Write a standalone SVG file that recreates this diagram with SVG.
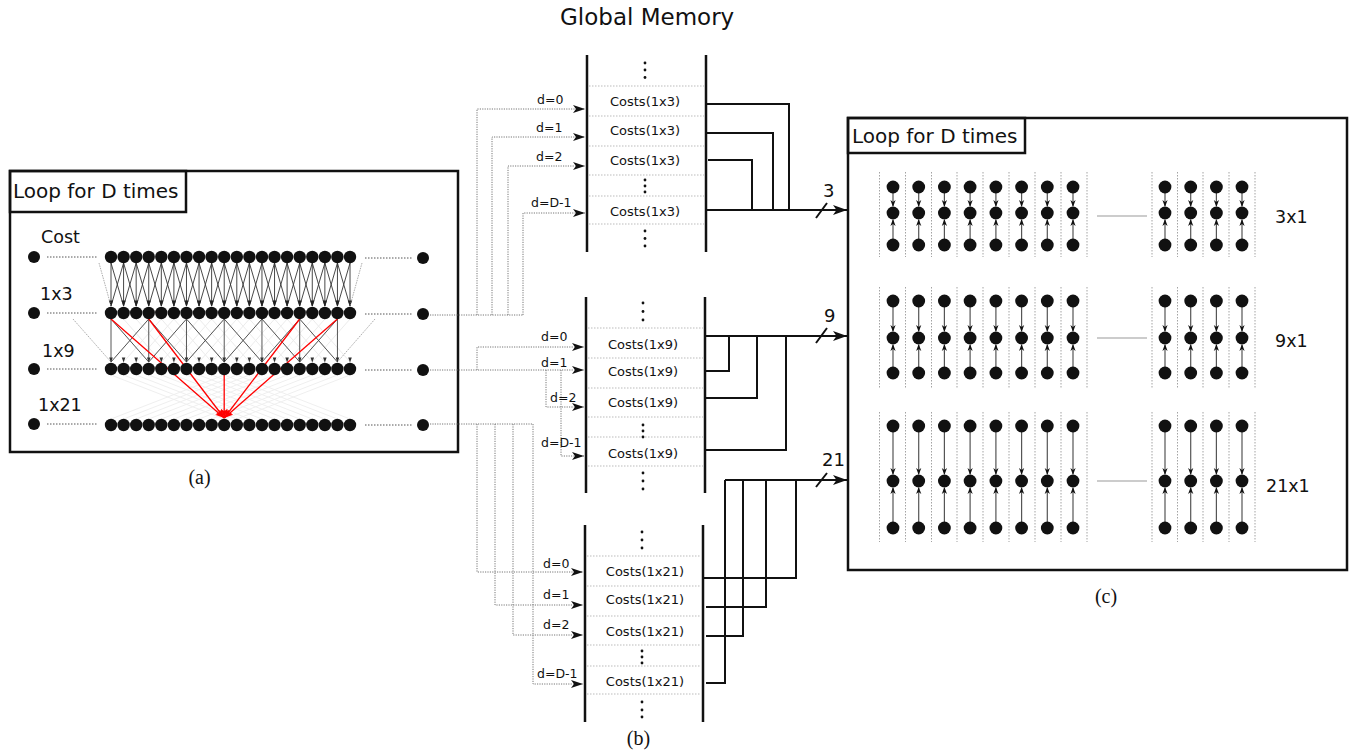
<svg xmlns="http://www.w3.org/2000/svg" width="1353" height="754" viewBox="0 0 1353 754">
<defs>
<style>
.t{font-family:"DejaVu Sans","Liberation Sans",sans-serif;fill:#111}
.cap{font-family:"Liberation Serif","Times New Roman",serif;font-size:20px;fill:#111;text-anchor:middle}
.frame{fill:none;stroke:#111;stroke-width:2.5}
.dot{fill:#111}
.dl{fill:none;stroke:#555;stroke-width:1;stroke-dasharray:1.5 1.5}
.bar{fill:none;stroke:#111;stroke-width:2.5}
.sep{fill:none;stroke:#aaa;stroke-width:0.8;stroke-dasharray:1.5 1.5}
.out{fill:none;stroke:#111;stroke-width:2}
.dline{fill:none;stroke:#777;stroke-width:1;stroke-dasharray:1.2 1.2}
.cl{fill:none;stroke:#555;stroke-width:1.2}
.cs{fill:none;stroke:#999;stroke-width:0.9;stroke-dasharray:1.5 1.5}
.red{fill:none;stroke:#f00;stroke-width:1.3}
</style>
<marker id="ah" markerUnits="userSpaceOnUse" markerWidth="12" markerHeight="8" viewBox="0 0 12 8" refX="12" refY="4" orient="auto"><path d="M0,0L12,4L0,8L3,4z" fill="#111"/></marker>
<marker id="ahb" markerUnits="userSpaceOnUse" markerWidth="14" markerHeight="10" viewBox="0 0 14 10" refX="14" refY="5" orient="auto"><path d="M0,0L14,5L0,10L3.5,5z" fill="#111"/></marker>
<marker id="ahr" markerUnits="userSpaceOnUse" markerWidth="9" markerHeight="7" viewBox="0 0 9 7" refX="9" refY="3.5" orient="auto"><path d="M0,0L9,3.5L0,7L2,3.5z" fill="#f00"/></marker>
<g id="row20" class="dot">
<circle cx="111" cy="0" r="6.2"/><circle cx="123.6" cy="0" r="6.2"/><circle cx="136.2" cy="0" r="6.2"/><circle cx="148.7" cy="0" r="6.2"/><circle cx="161.3" cy="0" r="6.2"/><circle cx="173.9" cy="0" r="6.2"/><circle cx="186.5" cy="0" r="6.2"/><circle cx="199.1" cy="0" r="6.2"/><circle cx="211.6" cy="0" r="6.2"/><circle cx="224.2" cy="0" r="6.2"/><circle cx="236.8" cy="0" r="6.2"/><circle cx="249.4" cy="0" r="6.2"/><circle cx="262" cy="0" r="6.2"/><circle cx="274.5" cy="0" r="6.2"/><circle cx="287.1" cy="0" r="6.2"/><circle cx="299.7" cy="0" r="6.2"/><circle cx="312.3" cy="0" r="6.2"/><circle cx="324.9" cy="0" r="6.2"/><circle cx="337.4" cy="0" r="6.2"/><circle cx="350" cy="0" r="6.2"/>
</g>
<g id="c3">
<path class="cl" d="M0,193V206M0,239V220"/>
<path fill="#111" d="M-2.6,200L0,207L2.6,200L0,202zM-2.6,226L0,219L2.6,226L0,224z"/>
<circle class="dot" cy="187" r="6.4"/><circle class="dot" cy="213" r="6.4"/><circle class="dot" cy="245" r="6.4"/>
</g>
<g id="c9">
<path class="cl" d="M0,307V331M0,367V345"/>
<path fill="#111" d="M-2.6,325L0,332L2.6,325L0,327zM-2.6,351L0,344L2.6,351L0,349z"/>
<circle class="dot" cy="301" r="6.4"/><circle class="dot" cy="338" r="6.4"/><circle class="dot" cy="373" r="6.4"/>
</g>
<g id="c21">
<path class="cl" d="M0,432V474M0,522V488"/>
<path fill="#111" d="M-2.6,468L0,475L2.6,468L0,470zM-2.6,494L0,487L2.6,494L0,492z"/>
<circle class="dot" cy="426" r="6.4"/><circle class="dot" cy="481" r="6.4"/><circle class="dot" cy="528" r="6.4"/>
</g>
</defs>
<rect width="1353" height="754" fill="#fff"/>

<text class="t" x="560" y="25" font-size="23">Global Memory</text>

<!-- Panel (a) -->
<g id="panel-a">
<rect class="frame" x="10" y="171" width="448" height="281"/>
<rect class="frame" x="10" y="171" width="176" height="41"/>
<text class="t" x="13" y="198" font-size="20">Loop for D times</text>
<text class="t" x="41" y="243" font-size="17.5">Cost</text>
<text class="t" x="40" y="300" font-size="17.5">1x3</text>
<text class="t" x="42" y="357" font-size="17.5">1x9</text>
<text class="t" x="38" y="411" font-size="17.5">1x21</text>
<!-- faint fan -->
<path fill="none" stroke="#ececec" stroke-width="1" d="M111,319l37.74,43m0,-43l-37.74,43m12.58,-43l37.74,43m0,-43l-37.74,43m12.58,-43l37.74,43m0,-43l-37.74,43m12.58,-43l37.74,43m0,-43l-37.74,43m12.58,-43l37.74,43m0,-43l-37.74,43m12.58,-43l37.74,43m0,-43l-37.74,43m12.58,-43l37.74,43m0,-43l-37.74,43m12.58,-43l37.74,43m0,-43l-37.74,43m12.58,-43l37.74,43m0,-43l-37.74,43m12.58,-43l37.74,43m0,-43l-37.74,43m12.58,-43l37.74,43m0,-43l-37.74,43m12.58,-43l37.74,43m0,-43l-37.74,43m12.58,-43l37.74,43m0,-43l-37.74,43m12.58,-43l37.74,43m0,-43l-37.74,43m12.58,-43l37.74,43m0,-43l-37.74,43m12.58,-43l37.74,43m0,-43l-37.74,43m12.58,-43l37.74,43m0,-43l-37.74,43"/>
<path fill="none" stroke="#efefef" stroke-width="1" d="M111,375l113.2,44m0,-44l-113.2,44m12.58,-44l113.2,44m0,-44l-113.2,44m12.58,-44l113.2,44m0,-44l-113.2,44m12.58,-44l113.2,44m0,-44l-113.2,44m12.58,-44l113.2,44m0,-44l-113.2,44m12.58,-44l113.2,44m0,-44l-113.2,44m12.58,-44l113.2,44m0,-44l-113.2,44m12.58,-44l113.2,44m0,-44l-113.2,44m12.58,-44l113.2,44m0,-44l-113.2,44m12.58,-44l113.2,44m0,-44l-113.2,44m12.58,-44l113.2,44m0,-44l-113.2,44"/>
<!-- cost -> 1x3 -->
<path fill="none" stroke="#333" stroke-width="0.9" d="M111,263v43m0,-43l12.58,43m0,-43l-12.58,43m12.58,-43v43m0,-43l12.58,43m0,-43l-12.58,43m12.58,-43v43m0,-43l12.58,43m0,-43l-12.58,43m12.58,-43v43m0,-43l12.58,43m0,-43l-12.58,43m12.58,-43v43m0,-43l12.58,43m0,-43l-12.58,43m12.58,-43v43m0,-43l12.58,43m0,-43l-12.58,43m12.58,-43v43m0,-43l12.58,43m0,-43l-12.58,43m12.58,-43v43m0,-43l12.58,43m0,-43l-12.58,43m12.58,-43v43m0,-43l12.58,43m0,-43l-12.58,43m12.58,-43v43m0,-43l12.58,43m0,-43l-12.58,43m12.58,-43v43m0,-43l12.58,43m0,-43l-12.58,43m12.58,-43v43m0,-43l12.58,43m0,-43l-12.58,43m12.58,-43v43m0,-43l12.58,43m0,-43l-12.58,43m12.58,-43v43m0,-43l12.58,43m0,-43l-12.58,43m12.58,-43v43m0,-43l12.58,43m0,-43l-12.58,43m12.58,-43v43m0,-43l12.58,43m0,-43l-12.58,43m12.58,-43v43m0,-43l12.58,43m0,-43l-12.58,43m12.58,-43v43m0,-43l12.58,43m0,-43l-12.58,43m12.58,-43v43m0,-43l12.58,43m0,-43l-12.58,43m12.58,-43v43"/>
<path fill="#222" d="M108.8,300.5h4.4l-2.2,6zm12.58,0h4.4l-2.2,6zm12.58,0h4.4l-2.2,6zm12.58,0h4.4l-2.2,6zm12.58,0h4.4l-2.2,6zm12.58,0h4.4l-2.2,6zm12.58,0h4.4l-2.2,6zm12.58,0h4.4l-2.2,6zm12.58,0h4.4l-2.2,6zm12.58,0h4.4l-2.2,6zm12.58,0h4.4l-2.2,6zm12.58,0h4.4l-2.2,6zm12.58,0h4.4l-2.2,6zm12.58,0h4.4l-2.2,6zm12.58,0h4.4l-2.2,6zm12.58,0h4.4l-2.2,6zm12.58,0h4.4l-2.2,6zm12.58,0h4.4l-2.2,6zm12.58,0h4.4l-2.2,6zm12.58,0h4.4l-2.2,6z"/>
<!-- 1x3 -> 1x9 -->
<path fill="none" stroke="#444" stroke-width="0.9" d="M111,319v43m0,-43l37.74,43m0,-43l-37.74,43m37.74,-43v43m0,-43l37.74,43m0,-43l-37.74,43m37.74,-43v43m0,-43l37.74,43m0,-43l-37.74,43m37.74,-43v43m0,-43l37.74,43m0,-43l-37.74,43m37.74,-43v43m0,-43l37.74,43m0,-43l-37.74,43m37.74,-43v43m0,-43l37.74,43m0,-43l-37.74,43m37.74,-43v43"/>
<path fill="none" stroke="#888" stroke-width="0.7" stroke-dasharray="1.5 1" d="M99,263L111,306M362,263L350,306M73,319L111,362M375,319L337.4,362"/>
<path fill="#333" d="M109.2,357.5h3.6l-1.8,5zm12.58,0h3.6l-1.8,5zm12.58,0h3.6l-1.8,5zm12.58,0h3.6l-1.8,5zm12.58,0h3.6l-1.8,5zm12.58,0h3.6l-1.8,5zm12.58,0h3.6l-1.8,5zm12.58,0h3.6l-1.8,5zm12.58,0h3.6l-1.8,5zm12.58,0h3.6l-1.8,5zm12.58,0h3.6l-1.8,5zm12.58,0h3.6l-1.8,5zm12.58,0h3.6l-1.8,5zm12.58,0h3.6l-1.8,5zm12.58,0h3.6l-1.8,5zm12.58,0h3.6l-1.8,5zm12.58,0h3.6l-1.8,5zm12.58,0h3.6l-1.8,5zm12.58,0h3.6l-1.8,5zm12.58,0h3.6l-1.8,5z"/>
<!-- red -->
<path class="red" d="M111,319L224.2,418" marker-end="url(#ahr)"/>
<path class="red" d="M148.7,319L224.2,418" marker-end="url(#ahr)"/>
<path class="red" d="M299.7,319L224.2,418" marker-end="url(#ahr)"/>
<path class="red" d="M337.4,319L224.2,418" marker-end="url(#ahr)"/>
<path class="red" d="M224.2,375L224.2,418" marker-end="url(#ahr)"/>
<use href="#row20" y="257"/>
<use href="#row20" y="313"/>
<use href="#row20" y="369"/>
<use href="#row20" y="425"/>
<g class="dot"><circle cx="34" cy="257" r="6"/><circle cx="34" cy="313" r="6"/><circle cx="34" cy="369" r="6"/><circle cx="34" cy="424" r="6"/><circle cx="423" cy="258" r="6"/><circle cx="423" cy="314" r="6"/><circle cx="423" cy="370" r="6"/><circle cx="423" cy="425" r="6"/></g>
<path class="dl" d="M47,257H98M47,313H98M47,369H98M47,424H98M365,258H413M365,314H413M365,370H413M365,425H413"/>
</g>
<text class="cap" x="199.5" y="484">(a)</text>

<!-- Panel (b) memory blocks -->
<g id="mem-1x3">
<path class="sep" d="M589,86H704M589,116H704M589,146H704M589,175H704M589,196H704M589,224H704"/>
<path class="bar" d="M587,55V252M706,55V252"/>
<g class="dot"><circle cx="645" cy="63" r="1.4"/><circle cx="645" cy="70" r="1.4"/><circle cx="645" cy="77.5" r="1.4"/><circle cx="645" cy="180" r="1.4"/><circle cx="645" cy="186" r="1.4"/><circle cx="645" cy="192" r="1.4"/><circle cx="645" cy="231" r="1.4"/><circle cx="645" cy="238.5" r="1.4"/><circle cx="645" cy="246" r="1.4"/></g>
<g class="t" font-size="13" text-anchor="middle"><text x="645" y="105.5">Costs(1x3)</text><text x="645" y="134.5">Costs(1x3)</text><text x="645" y="164.5">Costs(1x3)</text><text x="645" y="215.5">Costs(1x3)</text></g>
</g>
<g id="mem-1x9">
<path class="sep" d="M588,328H703M588,358H703M588,388H703M588,417H703M588,437H703M588,466H703"/>
<path class="bar" d="M586,297V493M705,297V493"/>
<g class="dot"><circle cx="643" cy="303" r="1.4"/><circle cx="643" cy="311.5" r="1.4"/><circle cx="643" cy="320" r="1.4"/><circle cx="643" cy="425" r="1.4"/><circle cx="643" cy="431" r="1.4"/><circle cx="643" cy="437" r="1.4"/><circle cx="643" cy="473" r="1.4"/><circle cx="643" cy="481" r="1.4"/><circle cx="643" cy="489" r="1.4"/></g>
<g class="t" font-size="13" text-anchor="middle"><text x="643" y="348.5">Costs(1x9)</text><text x="643" y="375.5">Costs(1x9)</text><text x="643" y="407">Costs(1x9)</text><text x="643" y="458">Costs(1x9)</text></g>
</g>
<g id="mem-1x21">
<path class="sep" d="M587,556H701M587,586H701M587,616H701M587,645H701M587,666H701M587,694H701"/>
<path class="bar" d="M585,525V722M703,525V722"/>
<g class="dot"><circle cx="642" cy="532" r="1.4"/><circle cx="642" cy="540" r="1.4"/><circle cx="642" cy="548" r="1.4"/><circle cx="642" cy="651" r="1.4"/><circle cx="642" cy="657" r="1.4"/><circle cx="642" cy="663" r="1.4"/><circle cx="642" cy="702" r="1.4"/><circle cx="642" cy="710" r="1.4"/><circle cx="642" cy="717" r="1.4"/></g>
<g class="t" font-size="13" text-anchor="middle"><text x="645" y="575.5">Costs(1x21)</text><text x="645" y="603.5">Costs(1x21)</text><text x="645" y="635.5">Costs(1x21)</text><text x="645" y="685.5">Costs(1x21)</text></g>
</g>
<text class="cap" x="638.5" y="745">(b)</text>

<!-- Panel (c) -->
<g id="panel-c">
<rect class="frame" x="848" y="118" width="499" height="452"/>
<rect class="frame" x="848" y="118" width="177" height="35"/>
<text class="t" x="852" y="143" font-size="20">Loop for D times</text>
<path class="cs" d="M879.5,172V257M905.5,172V257M931.5,172V257M957,172V257M983,172V257M1009,172V257M1035,172V257M1061,172V257M1087,172V257M1152,172V257M1177.5,172V257M1203,172V257M1229,172V257M1255,172V257"/>
<path class="cs" d="M879.5,287V388M905.5,287V388M931.5,287V388M957,287V388M983,287V388M1009,287V388M1035,287V388M1061,287V388M1087,287V388M1152,287V388M1177.5,287V388M1203,287V388M1229,287V388M1255,287V388"/>
<path class="cs" d="M879.5,412V542M905.5,412V542M931.5,412V542M957,412V542M983,412V542M1009,412V542M1035,412V542M1061,412V542M1087,412V542M1152,412V542M1177.5,412V542M1203,412V542M1229,412V542M1255,412V542"/>
<path fill="none" stroke="#999" stroke-width="1" d="M1097,216H1147M1097,338H1147M1097,481H1147"/>
<use href="#c3" x="893"/><use href="#c3" x="918.7"/><use href="#c3" x="944.4"/><use href="#c3" x="970.1"/><use href="#c3" x="995.9"/><use href="#c3" x="1021.6"/><use href="#c3" x="1047.3"/><use href="#c3" x="1073"/><use href="#c3" x="1165"/><use href="#c3" x="1190.7"/><use href="#c3" x="1216.4"/><use href="#c3" x="1242"/>
<use href="#c9" x="893"/><use href="#c9" x="918.7"/><use href="#c9" x="944.4"/><use href="#c9" x="970.1"/><use href="#c9" x="995.9"/><use href="#c9" x="1021.6"/><use href="#c9" x="1047.3"/><use href="#c9" x="1073"/><use href="#c9" x="1165"/><use href="#c9" x="1190.7"/><use href="#c9" x="1216.4"/><use href="#c9" x="1242"/>
<use href="#c21" x="893"/><use href="#c21" x="918.7"/><use href="#c21" x="944.4"/><use href="#c21" x="970.1"/><use href="#c21" x="995.9"/><use href="#c21" x="1021.6"/><use href="#c21" x="1047.3"/><use href="#c21" x="1073"/><use href="#c21" x="1165"/><use href="#c21" x="1190.7"/><use href="#c21" x="1216.4"/><use href="#c21" x="1242"/>
<text class="t" x="1275" y="223" font-size="17.5">3x1</text>
<text class="t" x="1275" y="347" font-size="17.5">9x1</text>
<text class="t" x="1266" y="492" font-size="17.5">21x1</text>
</g>
<text class="cap" x="1106" y="603">(c)</text>

<!-- Connectors -->
<g id="connectors">
<path class="dline" d="M430,315H523"/>
<path class="dline" d="M477,315V109H585" marker-end="url(#ah)"/>
<path class="dline" d="M492,315V137H585" marker-end="url(#ah)"/>
<path class="dline" d="M508,315V166H585" marker-end="url(#ah)"/>
<path class="dline" d="M523,315V213H585" marker-end="url(#ah)"/>
<path class="dline" d="M430,370H584" marker-end="url(#ah)"/>
<path class="dline" d="M477,370V347H584" marker-end="url(#ah)"/>
<path class="dline" d="M546,370V407H584" marker-end="url(#ah)"/>
<path class="dline" d="M561,370V456H584" marker-end="url(#ah)"/>
<path class="dline" d="M430,424H533"/>
<path class="dline" d="M477,424V572H583" marker-end="url(#ah)"/>
<path class="dline" d="M495,424V605H583" marker-end="url(#ah)"/>
<path class="dline" d="M513,424V635H583" marker-end="url(#ah)"/>
<path class="dline" d="M533,424V684H583" marker-end="url(#ah)"/>
<g class="t" font-size="12.5">
<text x="537" y="104">d=0</text><text x="536" y="132">d=1</text><text x="536" y="161">d=2</text><text x="531" y="207">d=D-1</text>
<text x="541" y="341">d=0</text><text x="541" y="367">d=1</text><text x="550" y="402">d=2</text><text x="541" y="447">d=D-1</text>
<text x="543" y="568">d=0</text><text x="543" y="599">d=1</text><text x="543" y="629">d=2</text><text x="537" y="678">d=D-1</text>
</g>
<path class="out" d="M706,104H789V210M706,133H773V210M708,160H752V210"/>
<path class="out" d="M706,210H847" marker-end="url(#ahb)"/>
<path class="out" d="M706,371H729V336M706,398H757V336M706,450H786V336"/>
<path class="out" d="M706,336H847" marker-end="url(#ahb)"/>
<path class="out" d="M703,578H796V480M706,607H766V480M706,636H743V480M706,683H725V480"/>
<path class="out" d="M725,480H847" marker-end="url(#ahb)"/>
<path class="out" stroke-width="1.5" d="M816,218L827,203M816,343L827,328M816,487L827,473"/>
<g class="t" font-size="18"><text x="823" y="197">3</text><text x="824" y="322">9</text><text x="822" y="466">21</text></g>
</g>
</svg>
